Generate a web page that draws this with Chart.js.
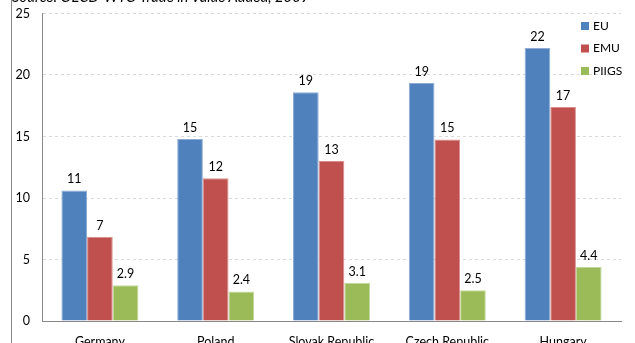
<!DOCTYPE html>
<html>
<head>
<meta charset="utf-8">
<script src="https://cdn.jsdelivr.net/npm/chart.js@4.4.1/dist/chart.umd.min.js"></script>
<style>
html, body { margin: 0; padding: 0; background: #fff; overflow: hidden; }
#wrap { position: absolute; left: 0; top: -6px; width: 635px; height: 358px; }
#frame { position: absolute; left: 11px; top: 0; height: 343px; border-left: 1px solid #8a8a8a; }
#source { position: absolute; left: 12px; top: -12.5px; font: italic 14.8px Lato, sans-serif; line-height: 16px; color: #000; white-space: nowrap; }
</style>
</head>
<body>
<div id="wrap"><canvas id="barChart" width="635" height="358"></canvas></div>
<div id="frame"></div>
<div id="source">Source: OECD-WTO Trade in Value Added, 2009</div>
<script>
var countries = ["Germany", "Poland", "Slovak Republic", "Czech Republic", "Hungary"];
var seriesNames = ["EU", "EMU", "PIIGS"];
var euShare = [10.6, 14.8, 18.6, 19.35, 22.2];
var emuShare = [6.85, 11.6, 13.0, 14.75, 17.4];
var piigsShare = [2.9, 2.4, 3.1, 2.5, 4.4];
var yMax = 25;
var yStep = 5;

var fontFamily = "Lato, 'Open Sans', sans-serif";

// value labels above each bar (integers above 5, one decimal below)
var valueLabels = {
    id: 'valueLabels',
    afterDatasetsDraw: function (chart) {
        var ctx = chart.ctx;
        ctx.save();
        ctx.font = '12.5px ' + fontFamily;
        ctx.fillStyle = '#000';
        ctx.textAlign = 'center';
        ctx.textBaseline = 'bottom';
        chart.data.datasets.forEach(function (ds, i) {
            chart.getDatasetMeta(i).data.forEach(function (bar, j) {
                var v = ds.data[j];
                var txt = v >= 5 ? String(Math.round(v)) : v.toFixed(1);
                ctx.fillText(txt, bar.x, bar.y - 5);
            });
        });
        ctx.restore();
    }
};

// legend drawn inside the plot, top right (canvas is shifted up 6px)
var cornerLegend = {
    id: 'cornerLegend',
    afterDraw: function (chart) {
        var ctx = chart.ctx;
        ctx.save();
        ctx.font = '12px ' + fontFamily;
        ctx.textBaseline = 'middle';
        ctx.textAlign = 'left';
        chart.data.datasets.forEach(function (ds, i) {
            var cy = 32 + i * 22.5;
            ctx.fillStyle = ds.backgroundColor;
            ctx.fillRect(581, cy - 4, 8, 8);
            ctx.fillStyle = '#000';
            ctx.fillText(ds.label, 593, cy);
        });
        ctx.restore();
    }
};

var barData = {
    labels: countries,
    datasets: [
        { label: seriesNames[0], data: euShare, backgroundColor: '#4F81BD', borderColor: '#8EACD4', borderWidth: 1 },
        { label: seriesNames[1], data: emuShare, backgroundColor: '#C0504D', borderColor: '#D98E8C', borderWidth: 1 },
        { label: seriesNames[2], data: piigsShare, backgroundColor: '#9BBB59', borderColor: '#C3D69B', borderWidth: 1 }
    ]
};

var barOptions = {
    responsive: false,
    animation: false,
    layout: { padding: { top: 7, right: 14, left: 0, bottom: 0 } },
    datasets: { bar: { categoryPercentage: 0.665, barPercentage: 1 } },
    plugins: { legend: { display: false }, tooltip: { enabled: false } },
    scales: {
        x: {
            grid: { display: false, drawTicks: false },
            border: { display: true, color: '#888' },
            ticks: { color: '#000', font: { family: fontFamily, size: 12.5 }, padding: 13, maxRotation: 0 },
            afterFit: function (s) { s.height = 31; }
        },
        y: {
            min: 0, max: yMax,
            grid: {
                drawTicks: false,
                color: function (c) { return c.tick && c.tick.value === 0 ? 'rgba(0,0,0,0)' : '#d9d9d9'; }
            },
            border: { display: true, color: '#888', dash: [3, 3] },
            ticks: { stepSize: yStep, color: '#000', font: { family: fontFamily, size: 12.5 }, padding: 12 },
            afterFit: function (s) { s.width = 42; }
        }
    }
};

var ctx2 = document.getElementById("barChart").getContext("2d");
new Chart(ctx2, { type: 'bar', data: barData, options: barOptions, plugins: [valueLabels, cornerLegend] });
</script>
</body>
</html>
